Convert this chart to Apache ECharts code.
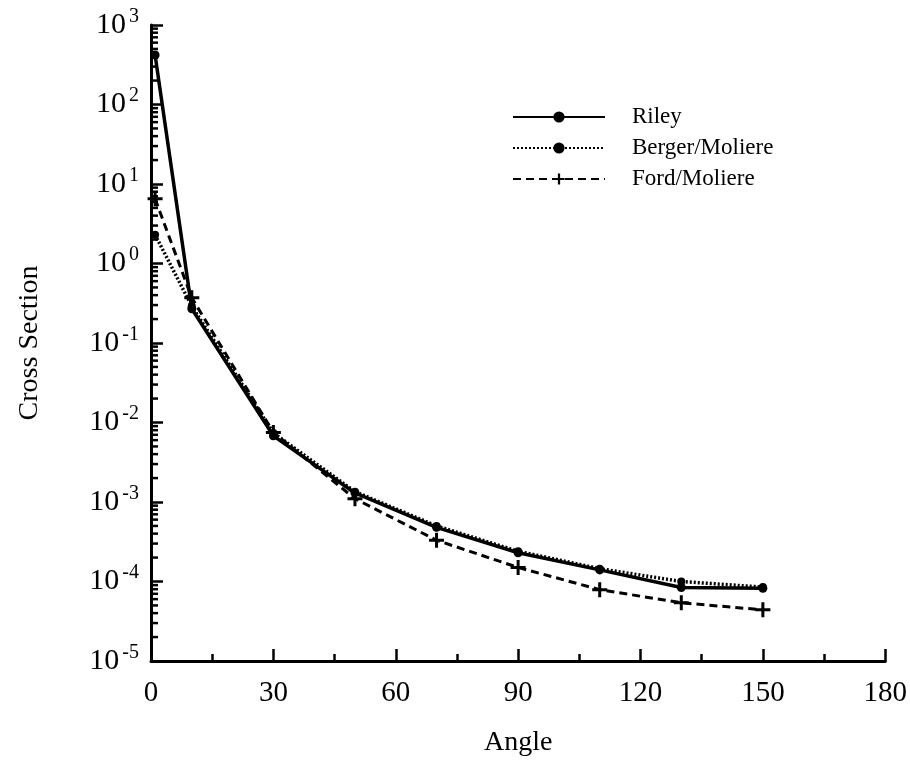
<!DOCTYPE html>
<html>
<head>
<meta charset="utf-8">
<script src="https://cdn.jsdelivr.net/npm/echarts@6/dist/echarts.min.js"></script>
<style>
  html, body { margin: 0; padding: 0; background: #fff; }
  #chart { width: 910px; height: 764px; }
</style>
</head>
<body>
<div id="chart"></div>
<script>
// Scattering angle (degrees)
const angles = [1, 10, 30, 50, 70, 90, 110, 130, 150];
// Cross sections for each model
const riley  = [420, 0.27, 0.0068, 0.0013, 0.00048, 0.00023, 0.00014, 0.000084, 0.000082];
const berger = [2.3, 0.29, 0.0074, 0.00135, 0.0005, 0.00024, 0.000145, 0.0001, 0.000085];
const ford   = [6.5, 0.37, 0.0075, 0.0011, 0.00033, 0.00015, 0.000079, 0.000054, 0.000044];
// Axis ranges and tick labels
const xTicks = [0, 30, 60, 90, 120, 150, 180];
const yDecades = [-5, -4, -3, -2, -1, 0, 1, 2, 3];

const FONT = '"Liberation Serif", "Times New Roman", serif';
const INK = '#000';

const pairs = ys => angles.map((a, i) => [a, ys[i]]);

// log-spaced minor ticks (2..9 within each decade)
const minorTickValues = [];
for (let k = yDecades[0]; k < yDecades[yDecades.length - 1]; k++) {
  for (let m = 2; m <= 9; m++) minorTickValues.push([0, m * Math.pow(10, k)]);
}

const plusPath = 'path://M4,0H6V4H10V6H6V10H4V6H0V4H4Z';

const chart = echarts.init(document.getElementById('chart'));
chart.setOption({
  animation: false,
  backgroundColor: '#fff',
  grid: { left: 151, right: 23, top: 25, bottom: 103, containLabel: false },
  legend: {
    data: ['Riley', 'Berger/Moliere', 'Ford/Moliere'],
    orient: 'vertical',
    left: 507,
    top: 100,
    itemWidth: 92,
    itemHeight: 14,
    itemGap: 7,
    textStyle: { fontFamily: FONT, fontSize: 23, color: INK, lineHeight: 24, padding: [0, 0, 0, 22] },
    inactiveColor: INK
  },
  xAxis: {
    type: 'value',
    min: xTicks[0],
    max: xTicks[xTicks.length - 1],
    interval: 30,
    name: 'Angle',
    nameLocation: 'middle',
    nameGap: 68,
    nameTextStyle: { fontFamily: FONT, fontSize: 28, color: INK },
    axisLine: { show: true, lineStyle: { color: INK, width: 3 } },
    axisTick: { show: true, inside: true, length: 12, lineStyle: { color: INK, width: 2.5 } },
    minorTick: { show: true, splitNumber: 2, length: 7, lineStyle: { color: INK, width: 2.5 } },
    axisLabel: { fontFamily: FONT, fontSize: 29, color: INK, margin: 18 },
    splitLine: { show: false },
    minorSplitLine: { show: false }
  },
  yAxis: {
    type: 'log',
    logBase: 10,
    min: Math.pow(10, yDecades[0]),
    max: Math.pow(10, yDecades[yDecades.length - 1]),
    name: 'Cross Section',
    nameLocation: 'middle',
    nameGap: 107,
    nameRotate: 90,
    nameTextStyle: { fontFamily: FONT, fontSize: 28, color: INK },
    axisLine: { show: true, lineStyle: { color: INK, width: 3 } },
    axisTick: { show: true, inside: true, length: 12, lineStyle: { color: INK, width: 2.5 } },
    axisLabel: {
      margin: 12,
      formatter: v => '{b|10}{s|' + Math.round(Math.log10(v)) + '}',
      rich: {
        b: { fontFamily: FONT, fontSize: 30, color: INK },
        s: { fontFamily: FONT, fontSize: 20, color: INK, padding: [0, 0, 17, 3] }
      }
    },
    splitLine: { show: false }
  },
  series: [
    {
      // minor ticks on the log axis
      type: 'custom',
      silent: true,
      clip: false,
      z: 1,
      data: minorTickValues,
      renderItem: (params, api) => {
        const p = api.coord([api.value(0), api.value(1)]);
        return {
          type: 'line',
          shape: { x1: p[0], y1: p[1], x2: p[0] + 7, y2: p[1] },
          style: { stroke: INK, lineWidth: 2.5 }
        };
      }
    },
    {
      name: 'Ford/Moliere',
      type: 'line',
      data: pairs(ford),
      symbol: plusPath,
      symbolSize: 15,
      itemStyle: { color: INK },
      lineStyle: { color: INK, width: 3, type: [8, 5] },
      z: 3
    },
    {
      name: 'Berger/Moliere',
      type: 'line',
      data: pairs(berger),
      symbol: 'circle',
      symbolSize: 8,
      itemStyle: { color: INK },
      lineStyle: { color: INK, width: 3.5, type: [2, 2] },
      z: 4
    },
    {
      name: 'Riley',
      type: 'line',
      data: pairs(riley),
      symbol: 'circle',
      symbolSize: 9,
      itemStyle: { color: INK },
      lineStyle: { color: INK, width: 3.5 },
      z: 5
    }
  ]
});
</script>
</body>
</html>
